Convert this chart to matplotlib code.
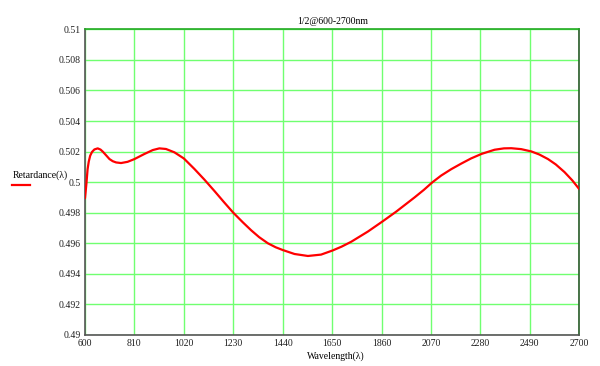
import matplotlib
matplotlib.use("Agg")
import matplotlib.pyplot as plt
from matplotlib.lines import Line2D

wavelength = [600, 606, 611, 616, 622, 630, 640, 654, 666, 676, 690, 704, 718, 732, 753, 781,
              810, 852, 888, 916, 944, 980, 1020, 1065, 1107, 1150, 1190, 1230, 1270, 1306,
              1340, 1377, 1410, 1440, 1490, 1547, 1603, 1652, 1690, 1731, 1802, 1864, 1922,
              2000, 2040, 2075, 2113, 2156, 2198, 2240, 2285, 2340, 2380, 2411, 2453, 2496,
              2530, 2567, 2600, 2637, 2670, 2700]
retardance = [0.49895, 0.49990, 0.50085, 0.50135, 0.50173, 0.50198, 0.50214, 0.50221, 0.50213,
              0.50199, 0.50175, 0.50151, 0.50137, 0.50129, 0.50125, 0.50133, 0.50151, 0.50184,
              0.50210, 0.50221, 0.50217, 0.50195, 0.50155, 0.50086, 0.50017, 0.49942, 0.49870,
              0.49800, 0.49738, 0.49685, 0.49640, 0.49600, 0.49574, 0.49556, 0.49530, 0.49517,
              0.49526, 0.49553, 0.49578, 0.49610, 0.49677, 0.49743, 0.49807, 0.49900, 0.49950,
              0.49998, 0.50043, 0.50085, 0.50121, 0.50155, 0.50185, 0.50212, 0.50221, 0.50222,
              0.50216, 0.50201, 0.50181, 0.50151, 0.50116, 0.50066, 0.50012, 0.49954]
xticks = [600, 810, 1020, 1230, 1440, 1650, 1860, 2070, 2280, 2490, 2700]
yticks = [0.49, 0.492, 0.494, 0.496, 0.498, 0.5, 0.502, 0.504, 0.506, 0.508, 0.51]
ytick_labels = ["0.49", "0.492", "0.494", "0.496", "0.498", "0.5", "0.502", "0.504", "0.506", "0.508", "0.51"]

plt.rcParams['font.family'] = ['Liberation Serif', 'DejaVu Serif']

fig = plt.figure(figsize=(6.0, 3.66), dpi=100)
ax = fig.add_axes([85/600, 1-335/366, (579.3-85)/600, (335-29.3)/366])
ax.plot(wavelength, retardance, color='#ff0000', lw=1.6, zorder=3,
        solid_joinstyle='round', solid_capstyle='round')
ax.set_xlim(600, 2700)
ax.set_ylim(0.49, 0.51)
ax.set_xticks(xticks)
ax.set_xticklabels([str(v) for v in xticks], fontsize=7)
ax.set_yticks(yticks)
ax.set_yticklabels(ytick_labels, fontsize=7)
ax.tick_params(length=0, pad=3, colors='#202020')
ax.grid(True, color='#70ff70', lw=1.0, zorder=1)
ax.set_axisbelow(True)
ax.spines['left'].set_color('#555555')
ax.spines['bottom'].set_color('#555555')
ax.spines['top'].set_color('#22aa22')
ax.spines['right'].set_color('#2a5a2a')
for s in ax.spines.values():
    s.set_linewidth(1.2)

fig.text(333/600, 1-21/366, "1/2@600-2700nm", fontsize=7, ha='center', va='center')
fig.text(336/600, 1-356/366, "Wavelength(λ)", fontsize=7, ha='center', va='center')
fig.text(13/600, 1-175/366, "Retardance(λ)", fontsize=7, ha='left', va='center')
fig.add_artist(Line2D([12/600, 30/600], [1-185/366, 1-185/366], color='#ff0000', lw=1.6,
                      transform=fig.transFigure))

fig.savefig("out.png", dpi=100)
